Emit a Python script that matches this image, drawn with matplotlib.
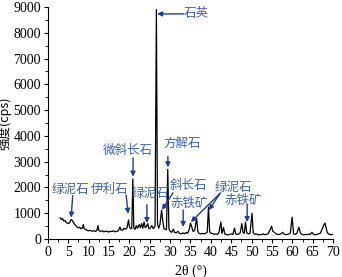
import numpy as np
import matplotlib.pyplot as plt
from matplotlib.ticker import MultipleLocator

# XRD pattern (2theta in degrees, counts)
two_theta = [3.0, 3.3, 3.6, 3.9, 4.2, 4.5, 4.8, 5.1, 5.4, 5.7, 6.0, 6.3, 6.6, 6.9,
             7.2, 7.5, 7.8, 8.1, 8.4, 8.7, 8.9, 9.2, 9.6, 10.0, 10.4, 10.8, 11.2,
             11.6, 12.0, 12.3, 12.5, 12.9, 13.3, 13.7, 14.1, 14.5, 14.9, 15.3,
             15.7, 16.1, 16.5, 16.9, 17.3, 17.7, 17.9, 18.3, 18.7, 19.0, 19.4,
             19.8, 20.0, 20.3, 20.6, 20.85, 21.1, 21.4, 21.7, 22.0, 22.4, 22.7,
             23.0, 23.3, 23.6, 23.9, 24.2, 24.5, 24.8, 25.1, 25.5, 25.9, 26.3,
             26.63, 26.9, 27.2, 27.5, 27.9, 28.2, 28.5, 28.8, 29.1, 29.42, 29.7,
             30.0, 30.4, 30.8, 31.1, 31.5, 31.9, 32.3, 32.7, 33.1, 33.5, 33.9,
             34.3, 34.7, 35.0, 35.3, 35.6, 36.0, 36.5, 36.8, 37.1, 37.5, 37.9,
             38.3, 38.7, 39.1, 39.42, 39.7, 40.0, 40.4, 40.8, 41.2, 41.6, 42.0,
             42.45, 42.7, 43.1, 43.4, 43.8, 44.2, 44.6, 45.0, 45.4, 45.8, 46.1,
             46.5, 46.9, 47.2, 47.6, 47.9, 48.2, 48.5, 48.8, 49.2, 49.6, 50.1,
             50.4, 50.8, 51.2, 51.6, 52.0, 52.4, 52.8, 53.2, 53.6, 54.0, 54.5,
             54.9, 55.2, 55.6, 56.0, 56.4, 56.8, 57.2, 57.6, 58.0, 58.4, 58.8,
             59.2, 59.5, 59.95, 60.3, 60.7, 61.1, 61.6, 62.0, 62.4, 62.8, 63.2,
             63.6, 64.0, 64.4, 64.8, 65.2, 65.6, 66.0, 66.4, 66.8, 67.3, 67.7,
             68.0, 68.3, 68.6, 69.0, 69.4, 69.8]
intensity = [820, 760, 800, 700, 720, 640, 620, 600, 660, 760, 720, 640, 560, 520,
             460, 430, 460, 400, 420, 560, 400, 380, 340, 320, 340, 300, 330,
             290, 330, 520, 330, 300, 320, 280, 300, 310, 270, 300,
             290, 320, 280, 300, 320, 470, 360, 340, 420, 380, 420,
             740, 480, 400, 420, 2330, 420, 380, 520, 420, 560, 440,
             600, 420, 660, 440, 480, 600, 400, 420, 520, 400, 500,
             8900, 600, 420, 560, 1120, 700, 400, 380, 360, 2700, 400,
             300, 260, 380, 260, 240, 300, 220, 200, 240, 200, 260,
             220, 380, 620, 480, 300, 320, 800, 300, 220, 200, 220,
             200, 220, 260, 1240, 280, 220, 220, 180, 200, 180, 260,
             660, 220, 450, 200, 180, 160, 180, 200, 180, 420, 200,
             180, 200, 240, 600, 260, 220, 660, 240, 200, 220, 1000,
             240, 180, 200, 160, 180, 170, 200, 170, 180, 200, 340,
             500, 300, 260, 200, 180, 180, 200, 260, 190, 170, 180,
             200, 240, 850, 200, 180, 220, 460, 220, 180, 160, 180,
             170, 190, 180, 260, 180, 170, 180, 200, 220, 380, 540,
             620, 420, 240, 190, 170, 180]

# labels: text, text position, arrow start, arrow tip(s)
labels = ['石英', '微斜长石', '方解石', '绿泥石', '伊利石', '绿泥石', '斜长石',
          '赤铁矿', '绿泥石', '赤铁矿']
text_xy = [(33.4, 8730), (19.7, 3450), (32.9, 3720), (5.6, 1940), (15.2, 1940),
           (25.1, 1780), (34.6, 2060), (34.6, 1400), (45.5, 2020), (48.0, 1510)]
arrow_from = [(33.3, 8730), (20.9, 3150), (29.45, 3200), (6.1, 1680), (19.2, 1700),
              (24.3, 1330), (30.7, 1790), (33.2, 1130), (42.3, 1780), (48.9, 1330)]
arrow_to = [[(26.8, 8730)], [(20.9, 2420)], [(29.45, 2780)], [(5.7, 830)],
            [(19.7, 980)], [(24.3, 620)], [(28.0, 1130)], [(33.2, 470)],
            [(35.1, 660), (39.5, 1120)], [(48.9, 660)]]

plt.rcParams['font.family'] = ['Liberation Serif', 'Noto Sans CJK SC']

fig = plt.figure(figsize=(3.42, 2.77), dpi=100)
ax = fig.add_axes([0.140, 0.137, 0.834, 0.838])

ax.plot(two_theta, intensity, color='black', lw=0.9)

text_color = '#3f63b8'
arrow_color = '#1d3c9c'
for lab, (tx, ty), start, tips in zip(labels, text_xy, arrow_from, arrow_to):
    ha = 'left' if lab == '石英' else 'center'
    ax.text(tx, ty, lab, color=text_color, fontsize=9, ha=ha, va='center',
            family=['Noto Sans CJK SC'])
    for tip in tips:
        ax.annotate('', xy=tip, xytext=start,
                    arrowprops=dict(arrowstyle='-|>', color=arrow_color, lw=1.0,
                                    mutation_scale=7, shrinkA=0, shrinkB=0))

ax.set_xlim(0, 70)
ax.set_ylim(0, 9000)
ax.xaxis.set_major_locator(MultipleLocator(5))
ax.xaxis.set_minor_locator(MultipleLocator(2.5))
ax.yaxis.set_major_locator(MultipleLocator(1000))
ax.yaxis.set_minor_locator(MultipleLocator(500))
ax.tick_params(which='major', direction='out', length=3, width=0.8, labelsize=10, pad=2)
ax.tick_params(which='minor', direction='out', length=2, width=0.6)
ax.spines['top'].set_visible(False)
ax.spines['right'].set_visible(False)

ax.set_xlabel('2θ (°)', fontsize=10, labelpad=4)
ax.set_ylabel('强度(cps)', fontsize=9, labelpad=1, family=['Noto Sans CJK SC', 'DejaVu Sans'])

fig.savefig('out.png', dpi=100)
